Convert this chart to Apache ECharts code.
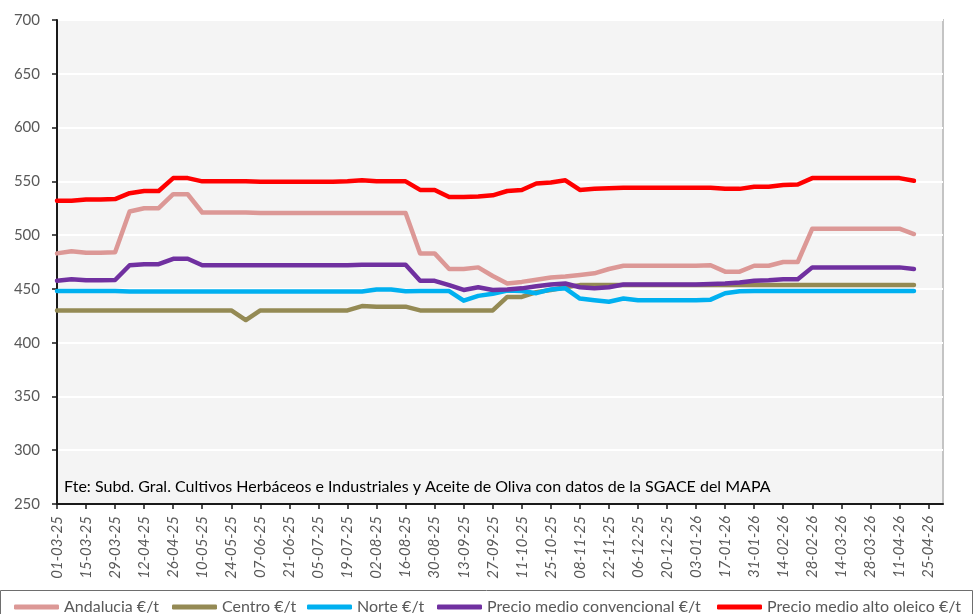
<!DOCTYPE html>
<html>
<head>
<meta charset="utf-8">
<style>
  html, body { margin: 0; padding: 0; background: #fff; }
  #chart { width: 973px; height: 614px; }
</style>
<script src="https://cdn.jsdelivr.net/npm/echarts@6/dist/echarts.min.js"></script>
</head>
<body>
<div id="chart"></div>
<script>
// weekly dates (last one only extends the axis, no data there)
const categories = [
  '01-03-25', '08-03-25', '15-03-25', '22-03-25', '29-03-25', '05-04-25', '12-04-25', '19-04-25',
  '26-04-25', '03-05-25', '10-05-25', '17-05-25', '24-05-25', '31-05-25', '07-06-25', '14-06-25',
  '21-06-25', '28-06-25', '05-07-25', '12-07-25', '19-07-25', '26-07-25', '02-08-25', '09-08-25',
  '16-08-25', '23-08-25', '30-08-25', '06-09-25', '13-09-25', '20-09-25', '27-09-25', '04-10-25',
  '11-10-25', '18-10-25', '25-10-25', '01-11-25', '08-11-25', '15-11-25', '22-11-25', '29-11-25',
  '06-12-25', '13-12-25', '20-12-25', '27-12-25', '03-01-26', '10-01-26', '17-01-26', '24-01-26',
  '31-01-26', '07-02-26', '14-02-26', '21-02-26', '28-02-26', '07-03-26', '14-03-26', '21-03-26',
  '28-03-26', '04-04-26', '11-04-26', '18-04-26', '25-04-26', '02-05-26'
];

const andalucia = [
  483, 485, 483.5, 483.5, 484, 522, 525, 525, 538, 538,
  521, 521, 521, 521, 520.5, 520.5, 520.5, 520.5, 520.5, 520.5,
  520.5, 520.5, 520.5, 520.5, 520.5, 483, 483, 468.5, 468.5, 470,
  462, 455, 456.5, 458.5, 460.5, 461.5, 463, 464.5, 468.5, 471.5,
  471.5, 471.5, 471.5, 471.5, 471.5, 472, 466, 466, 471.5, 471.5,
  475, 475, 506, 506, 506, 506, 506, 506, 506, 501
];

const centro = [
  430, 430, 430, 430, 430, 430, 430, 430, 430, 430,
  430, 430, 430, 421, 430, 430, 430, 430, 430, 430,
  430, 434, 433.5, 433.5, 433.5, 430, 430, 430, 430, 430,
  430, 442.5, 442.5, 447, 449, 451.5, 453.5, 453.5, 453.5, 453.5,
  453.5, 453.5, 453.5, 453.5, 453.5, 453.5, 453.5, 453.5, 453.5, 453.5,
  453.5, 453.5, 453.5, 453.5, 453.5, 453.5, 453.5, 453.5, 453.5, 453.5
];

const norte = [
  448, 448, 448, 448, 448, 447.5, 447.5, 447.5, 447.5, 447.5,
  447.5, 447.5, 447.5, 447.5, 447.5, 447.5, 447.5, 447.5, 447.5, 447.5,
  447.5, 447.5, 449.5, 449.5, 447.8, 448, 448, 448, 439, 443.5,
  445.5, 448.5, 448, 446, 449.5, 450.5, 441, 439.5, 438, 441,
  439.5, 439.5, 439.5, 439.5, 439.5, 440, 446, 447.8, 448, 448,
  448, 448, 448, 448, 448, 448, 448, 448, 448, 448
];

const convencional = [
  457.5, 459, 458, 458, 458.3, 472, 473, 473, 478, 478,
  472, 472, 472, 472, 472, 472, 472, 472, 472, 472,
  472, 472.5, 472.5, 472.5, 472.5, 457.5, 457.5, 453.5, 449, 451.5,
  449, 449.5, 450.5, 452.5, 454, 455, 451.5, 450.5, 451.5, 454,
  454, 454, 454, 454, 454, 454.5, 455, 456, 457.5, 458,
  459, 459, 470, 470, 470, 470, 470, 470, 470, 468.5
];

const altoOleico = [
  532, 532, 533, 533, 533.5, 539, 541, 541, 553, 553,
  550, 550, 550, 550, 549.7, 549.5, 549.5, 549.5, 549.5, 549.7,
  550, 551, 550, 550, 550, 542, 542, 535.5, 535.5, 536,
  537, 541, 542, 548, 549, 551, 542, 543, 543.5, 544,
  544, 544, 544, 544, 544, 544, 543, 543, 545, 545,
  546.5, 547, 553, 553, 553, 553, 553, 553, 553, 550.5
];

const seriesNames = [
  'Andalucia €/t',
  'Centro €/t',
  'Norte €/t',
  'Precio medio convencional €/t',
  'Precio medio alto oleico €/t'
];
const seriesData = [andalucia, centro, norte, convencional, altoOleico];
const colors = ['#dc9896', '#948a54', '#00b0f0', '#7030a0', '#ff0000'];
const legendLeft = [14, 172, 307, 437, 717];

const sourceText = 'Fte: Subd. Gral. Cultivos Herbáceos e Industriales y Aceite de Oliva con datos de la SGACE del MAPA';

const FONT = 'Lato, "Liberation Sans", sans-serif';

const chart = echarts.init(document.getElementById('chart'), null, { renderer: 'canvas' });

const option = {
  animation: false,
  backgroundColor: '#ffffff',
  textStyle: { fontFamily: FONT },
  grid: {
    left: 57,
    top: 20,
    right: 30,
    bottom: 110,
    containLabel: false,
    show: true,
    backgroundColor: '#f4f4f4',
    borderColor: '#c4c4c4',
    borderWidth: 2
  },
  legend: seriesNames.map((name, i) => ({
    data: [name],
    left: legendLeft[i],
    top: 599,
    icon: 'roundRect',
    itemWidth: 45,
    itemHeight: 5,
    itemGap: 0,
    padding: 0,
    textStyle: { color: '#595959', fontSize: 16, fontFamily: FONT }
  })),
  xAxis: {
    type: 'category',
    boundaryGap: false,
    data: categories,
    axisLine: { show: true, lineStyle: { color: '#1a1a1a', width: 2 } },
    axisTick: { show: true, interval: 1, length: 5, lineStyle: { color: '#1a1a1a', width: 1.5 } },
    axisLabel: {
      interval: 1,
      rotate: 90,
      margin: 12,
      color: '#595959',
      fontSize: 15,
      fontStyle: 'italic',
      fontFamily: FONT
    },
    splitLine: { show: false }
  },
  yAxis: {
    type: 'value',
    min: 250,
    max: 700,
    interval: 50,
    axisLine: { show: true, lineStyle: { color: '#1a1a1a', width: 2 } },
    axisTick: { show: true, length: 5, lineStyle: { color: '#1a1a1a', width: 1.5 } },
    axisLabel: { margin: 17, color: '#595959', fontSize: 15, fontFamily: FONT },
    splitLine: { show: true, lineStyle: { color: '#ffffff', width: 2 } }
  },
  graphic: [
    {
      type: 'text',
      left: 64,
      top: 479,
      style: { text: sourceText, fill: '#000', font: '16px ' + FONT }
    },
    {
      type: 'rect',
      shape: { x: 0.5, y: 590.5, width: 972, height: 30 },
      style: { fill: 'none', stroke: '#6e6e6e', lineWidth: 1 }
    }
  ],
  series: seriesNames.map((name, i) => ({
    name: name,
    type: 'line',
    data: seriesData[i],
    symbol: 'none',
    color: colors[i],
    lineStyle: { color: colors[i], width: 4.5, cap: 'round', join: 'round' }
  }))
};

chart.setOption(option);
</script>
</body>
</html>
